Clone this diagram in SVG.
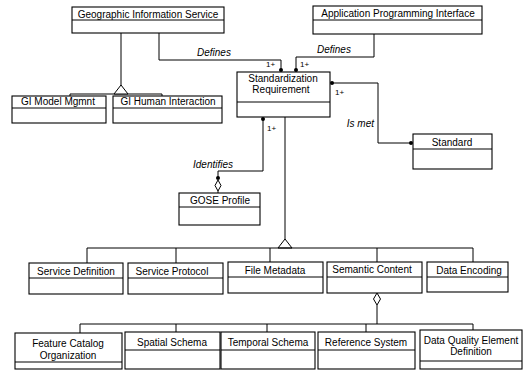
<svg xmlns="http://www.w3.org/2000/svg" width="526" height="372" viewBox="0 0 526 372">
  <style>
    .box { fill: #fff; stroke: #000; stroke-width: 1.1; }
    .div { stroke: #000; stroke-width: 1; }
    .t { font-family: "Liberation Sans", Arial, sans-serif; font-size: 10px; fill: #000; text-anchor: middle; }
    .lbl { font-family: "Liberation Sans", Arial, sans-serif; font-size: 10px; font-style: italic; fill: #000; }
    .m { font-family: "Liberation Sans", Arial, sans-serif; font-size: 8px; fill: #000; }
    .ln { fill: none; stroke: #000; stroke-width: 1; }
    .dot { fill: #000; }
    .tri { fill: #fff; stroke: #000; stroke-width: 1; }
  </style>
  <rect width="526" height="372" fill="#fff"/>

  <!-- connectors -->
  <g id="connectors">
    <!-- generalization: Geographic Information Service -->
    <path class="ln" d="M121,33 V86 M70,100 V94 H162 V98"/>
    <polygon class="tri" points="121,85 114,94 128,94"/>
    <!-- Defines (left) -->
    <path class="ln" d="M159,33 V60 H281 V70"/>
    <circle class="dot" cx="281" cy="70" r="2"/>
    <text class="lbl" x="197" y="56">Defines</text>
    <text class="m" x="266" y="67">1+</text>
    <!-- Defines (right) -->
    <path class="ln" d="M374,34 V57 H296 V70"/>
    <circle class="dot" cx="296" cy="70" r="2"/>
    <text class="lbl" x="317" y="53">Defines</text>
    <text class="m" x="300" y="67">1+</text>
    <!-- Is met -->
    <path class="ln" d="M332,83 H378 V143 H411"/>
    <circle class="dot" cx="332" cy="83" r="2"/>
    <circle class="dot" cx="411" cy="143" r="2"/>
    <text class="m" x="335" y="95">1+</text>
    <text class="lbl" x="374" y="127" text-anchor="end">Is met</text>
    <!-- Identifies -->
    <path class="ln" d="M263,119 V171 H218 V178 M218,191 V193"/>
    <circle class="dot" cx="263" cy="119" r="2"/>
    <circle class="dot" cx="218" cy="178" r="2"/>
    <polygon class="tri" points="218,180 221,185.5 218,191 215,185.5"/>
    <text class="m" x="267" y="131">1+</text>
    <text class="lbl" x="193" y="168">Identifies</text>
    <!-- generalization: Standardization Requirement -->
    <path class="ln" d="M285,117 V240"/>
    <polygon class="tri" points="285,239 278,248 292,248"/>
    <path class="ln" d="M87,263 V248 H473 V262 M176,248 V263 M270,248 V262 M377,248 V262"/>
    <!-- aggregation: Semantic Content -->
    <polygon class="tri" points="377,293 380.5,299 377,305 373.5,299"/>
    <path class="ln" d="M377,305 V324 M80,333 V324 H473 V330 M176,324 V332 M267,324 V332 M366,324 V332"/>
  </g>

  <g id="gis">
    <rect class="box" x="72" y="7" width="152" height="26"/>
    <line class="div" x1="72" y1="20" x2="224" y2="20"/>
    <text class="t" x="148" y="17.5">Geographic Information Service</text>
  </g>
  <g id="api">
    <rect class="box" x="313" y="6" width="169" height="28"/>
    <line class="div" x1="313" y1="20" x2="482" y2="20"/>
    <text class="t" x="398" y="17">Application Programming Interface</text>
  </g>
  <g id="gi-model">
    <rect class="box" x="12" y="96" width="94" height="27"/>
    <line class="div" x1="12" y1="108" x2="106" y2="108"/>
    <text class="t" x="58" y="105">GI Model Mgmnt</text>
  </g>
  <g id="gi-human">
    <rect class="box" x="113" y="96" width="109" height="27"/>
    <line class="div" x1="113" y1="108" x2="222" y2="108"/>
    <text class="t" x="168" y="105">GI Human Interaction</text>
  </g>
  <g id="std-req">
    <rect class="box" x="237" y="72" width="93" height="45"/>
    <line class="div" x1="237" y1="102" x2="330" y2="102"/>
    <text class="t" x="283" y="82">Standardization</text>
    <text class="t" x="281" y="93">Requirement</text>
  </g>
  <g id="standard">
    <rect class="box" x="413" y="134" width="79" height="35"/>
    <line class="div" x1="413" y1="149" x2="492" y2="149"/>
    <text class="t" x="452" y="146">Standard</text>
  </g>
  <g id="gose">
    <rect class="box" x="179" y="193" width="81" height="32"/>
    <line class="div" x1="179" y1="207" x2="260" y2="207"/>
    <text class="t" x="220" y="204">GOSE Profile</text>
  </g>

  <g id="service-definition">
    <rect class="box" x="29" y="263" width="94" height="31"/>
    <line class="div" x1="29" y1="278" x2="123" y2="278"/>
    <text class="t" x="76" y="275">Service Definition</text>
  </g>
  <g id="service-protocol">
    <rect class="box" x="128" y="263" width="95" height="31"/>
    <line class="div" x1="128" y1="278" x2="223" y2="278"/>
    <text class="t" x="172" y="275">Service Protocol</text>
  </g>
  <g id="file-metadata">
    <rect class="box" x="228" y="262" width="95" height="31"/>
    <line class="div" x1="228" y1="277" x2="323" y2="277"/>
    <text class="t" x="275" y="274">File Metadata</text>
  </g>
  <g id="semantic-content">
    <rect class="box" x="327" y="262" width="95" height="31"/>
    <line class="div" x1="327" y1="277" x2="422" y2="277"/>
    <text class="t" x="372" y="273">Semantic Content</text>
  </g>
  <g id="data-encoding">
    <rect class="box" x="427" y="262" width="81" height="30"/>
    <line class="div" x1="427" y1="277" x2="508" y2="277"/>
    <text class="t" x="469" y="274">Data Encoding</text>
  </g>

  <g id="feature-catalog">
    <rect class="box" x="15" y="333" width="107" height="36"/>
    <line class="div" x1="15" y1="362" x2="122" y2="362"/>
    <text class="t" x="68" y="347">Feature Catalog</text>
    <text class="t" x="68" y="359">Organization</text>
  </g>
  <g id="spatial-schema">
    <rect class="box" x="125" y="332" width="95" height="37"/>
    <line class="div" x1="125" y1="350" x2="220" y2="350"/>
    <text class="t" x="172" y="346">Spatial Schema</text>
  </g>
  <g id="temporal-schema">
    <rect class="box" x="221" y="332" width="94" height="37"/>
    <line class="div" x1="221" y1="350" x2="315" y2="350"/>
    <text class="t" x="268" y="346">Temporal Schema</text>
  </g>
  <g id="reference-system">
    <rect class="box" x="318" y="332" width="97" height="37"/>
    <line class="div" x1="318" y1="350" x2="415" y2="350"/>
    <text class="t" x="366" y="346">Reference System</text>
  </g>
  <g id="data-quality">
    <rect class="box" x="420" y="330" width="102" height="39"/>
    <line class="div" x1="420" y1="361" x2="522" y2="361"/>
    <text class="t" x="471" y="344">Data Quality Element</text>
    <text class="t" x="471" y="355">Definition</text>
  </g>
</svg>
